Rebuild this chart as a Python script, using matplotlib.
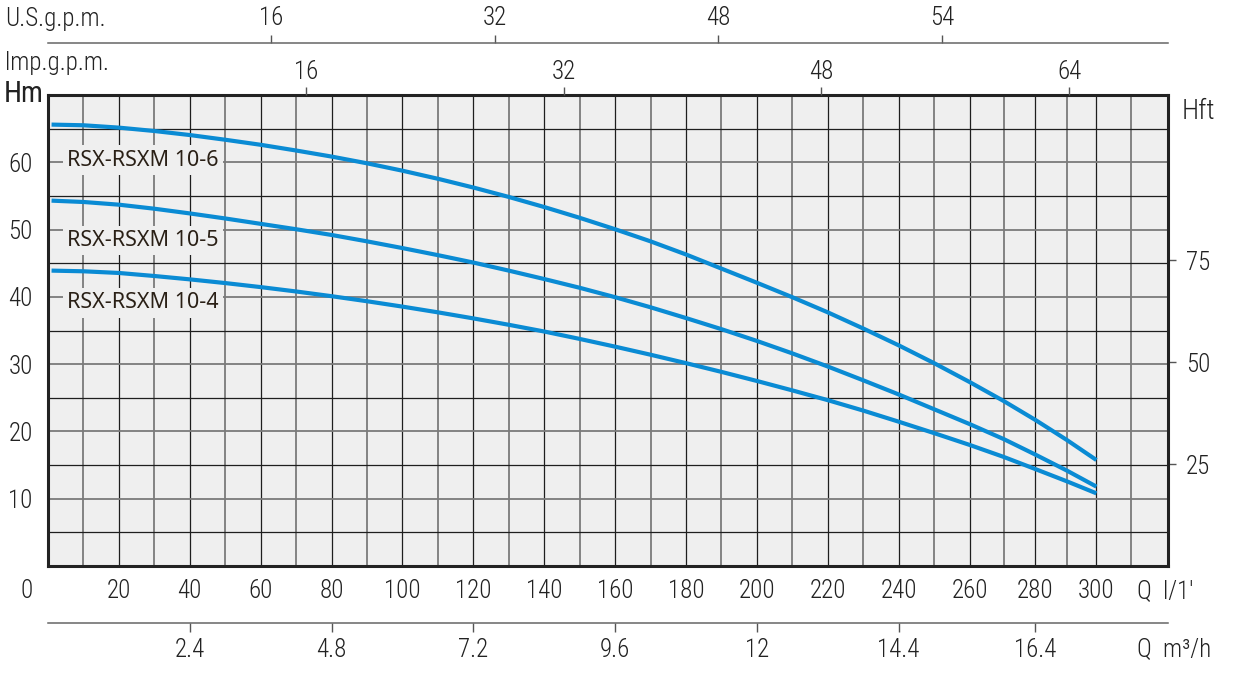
import numpy as np
import matplotlib.pyplot as plt
from matplotlib import font_manager

# flow in l/min and head in m
q = [1, 10, 20, 30, 40, 50, 60, 70, 80, 90, 100, 110, 120, 130, 140, 150,
     160, 170, 180, 190, 200, 210, 220, 230, 240, 250, 260, 270, 280, 290, 300]
h_10_6 = [65.6, 65.5, 65.15, 64.65, 64.05, 63.35, 62.6, 61.75, 60.85, 59.85,
          58.75, 57.55, 56.25, 54.85, 53.35, 51.75, 50.05, 48.25, 46.3, 44.2,
          42.1, 39.95, 37.7, 35.3, 32.8, 30.15, 27.35, 24.5, 21.7, 18.75, 15.75]
h_10_5 = [54.3, 54.1, 53.7, 53.1, 52.4, 51.65, 50.85, 50.05, 49.2, 48.25,
          47.25, 46.2, 45.1, 43.9, 42.65, 41.35, 39.95, 38.45, 36.85, 35.2,
          33.45, 31.6, 29.65, 27.6, 25.5, 23.3, 21.1, 18.85, 16.55, 14.2, 11.8]
h_10_4 = [43.9, 43.8, 43.55, 43.1, 42.6, 42.05, 41.45, 40.8, 40.1, 39.35,
          38.55, 37.7, 36.8, 35.85, 34.85, 33.75, 32.6, 31.4, 30.15, 28.85,
          27.5, 26.1, 24.65, 23.1, 21.45, 19.75, 18.0, 16.2, 14.4, 12.6, 10.8]
models = ['RSX-RSXM 10-6', 'RSX-RSXM 10-5', 'RSX-RSXM 10-4']
model_label_h = [60.3, 48.4, 39.1]

q_ticks = list(range(20, 301, 20))
hm_ticks = [10, 20, 30, 40, 50, 60]
hft_ticks = [25, 50, 75]
imp_ticks = [16, 32, 48, 64]
us_ticks = [16, 32, 48, 64]
us_labels = ['16', '32', '48', '54']
m3h_ticks = [2.4, 4.8, 7.2, 9.6, 12, 14.4, 16.8]
m3h_labels = ['2.4', '4.8', '7.2', '9.6', '12', '14.4', '16.4']

LPM_PER_IMP = 4.546
LPM_PER_US = 3.94    # as drawn on the chart
HFT_PER_HM = 1.65    # as drawn on the chart
LPM_PER_M3H = 1000 / 60

# the flow scale on the chart gets squeezed above 260 l/min
q_knots = [-1000, 0, 260, 270, 280, 290, 300, 310, 320, 1320]
u_knots = [-1000, 0, 260, 269.7, 278.6, 287.4, 295.8, 305.6, 316, 1316]


def warp(x):
    return np.interp(x, q_knots, u_knots)


def unwarp(u):
    return np.interp(u, u_knots, q_knots)


def first_font(names):
    for n in names:
        try:
            font_manager.findfont(font_manager.FontProperties(family=n),
                                  fallback_to_default=False)
            return n
        except ValueError:
            pass
    return 'DejaVu Sans'


narrow = first_font(['Liberation Sans Narrow', 'DejaVu Sans Condensed',
                     'Roboto Condensed', 'Liberation Sans'])
plt.rcParams['font.family'] = [narrow, 'DejaVu Sans']
plt.rcParams['font.weight'] = 'light'
FS = 18
INK = '#222222'
BLUE = '#0a8bd4'

W, H = 1235, 674
fig = plt.figure(figsize=(W / 100, H / 100), dpi=100)
L, R, B, T = 48 / W, 1168 / W, 1 - 566 / H, 1 - 95 / H
ax = fig.add_axes([L, B, R - L, T - B])
ax.set_facecolor('#efefef')
ax.set_xscale('function', functions=(warp, unwarp))
ax.set_xlim(0, 320)
ax.set_ylim(0, 70)

ax.set_xticks(q_ticks)
ax.set_xticks(np.arange(10, 320, 10), minor=True)
ax.set_yticks(hm_ticks)
ax.set_yticks(np.arange(5, 70, 5), minor=True)
ax.xaxis.grid(True, which='major', color='#1e1e1e', lw=0.9)
ax.xaxis.grid(True, which='minor', color='#7a7a7a', lw=1.3)
ax.yaxis.grid(True, which='major', color='#7a7a7a', lw=1.3)
ax.yaxis.grid(True, which='minor', color='#1e1e1e', lw=0.9)
ax.set_axisbelow(True)
ax.tick_params(axis='both', which='both', length=0, labelsize=FS, colors=INK)
ax.tick_params(axis='x', pad=9)
ax.tick_params(axis='y', pad=11)
for s in ax.spines.values():
    s.set_color(INK)
    s.set_linewidth(2.2)

for h in [h_10_6, h_10_5, h_10_4]:
    ax.plot(q, h, color=BLUE, lw=3, solid_capstyle='butt', zorder=3)

for name, y in zip(models, model_label_h):
    ax.text(5.4, y, name, ha='left', va='center', fontsize=15.5,
            family=['Noto Sans', 'DejaVu Sans'], weight='normal',
            color='#2a2016', zorder=4,
            bbox=dict(boxstyle='square,pad=0.2', fc='#efefef', ec='none'))

# Hft scale on the right
sec = ax.secondary_yaxis('right', functions=(lambda m: m * HFT_PER_HM,
                                             lambda f: f / HFT_PER_HM))
sec.set_yticks(hft_ticks)
sec.tick_params(length=6, width=1, color='#555555', pad=7, labelsize=FS,
                labelcolor=INK)
sec.spines['right'].set_visible(False)


def flow_axis(y, side, line):
    a = fig.add_axes([L, y, R - L, 1e-4])
    a.set_xscale('function', functions=(warp, unwarp))
    a.set_xlim(0, 320)
    a.patch.set_visible(False)
    a.yaxis.set_visible(False)
    for s in a.spines.values():
        s.set_visible(False)
    a.xaxis.set_ticks_position(side)
    if line:
        a.spines[side].set_visible(True)
        a.spines[side].set_color('#666666')
        a.spines[side].set_linewidth(1.1)
    return a


# U.S. gallons per minute
us = flow_axis(1 - 43 / H, 'top', True)
us.set_xticks(np.array(us_ticks) * LPM_PER_US, us_labels)
us.tick_params(length=6, width=1, color='#555555', pad=3, labelsize=FS,
               labelcolor=INK)

# imperial gallons per minute
imp = flow_axis(T, 'top', False)
imp.set_xticks(np.array(imp_ticks) * LPM_PER_IMP, [str(v) for v in imp_ticks])
imp.tick_params(length=6, width=1, color='#555555', pad=2, labelsize=FS,
                labelcolor=INK)

# cubic metres per hour
m3 = flow_axis(1 - 623 / H, 'bottom', True)
m3.set_xticks(np.array(m3h_ticks) * LPM_PER_M3H, m3h_labels)
m3.tick_params(length=6.5, width=1, color='#555555', pad=4, labelsize=FS,
               labelcolor=INK)


def px_text(x, y, s, size=FS, **kw):
    fig.text(x / W, 1 - y / H, s, fontsize=size, color=INK, **kw)


px_text(5, 26, 'U.S.g.p.m.', ha='left', va='baseline')
px_text(5, 70, 'lmp.g.p.m.', ha='left', va='baseline')
px_text(4, 102, 'Hm', size=FS + 3, weight='normal', ha='left', va='baseline')
px_text(1182, 119, 'Hft', size=FS + 2, ha='left', va='baseline')
px_text(27, 598, '0', ha='center', va='baseline')
px_text(1137, 598, "Q  l/1'", ha='left', va='baseline')
px_text(1137, 656, 'Q  m³/h', ha='left', va='baseline')

fig.savefig('out.png', dpi=100)
